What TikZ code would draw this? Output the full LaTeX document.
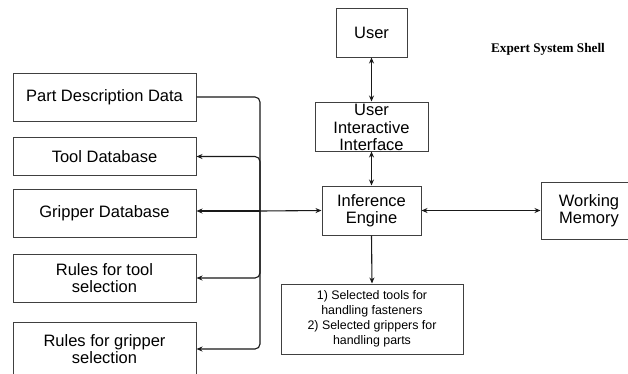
\documentclass[tikz,border=0pt]{standalone}
\usepackage{fontspec}
\setmainfont{Liberation Sans}
\newfontfamily\titlefont{Liberation Serif}
\usetikzlibrary{arrows.meta}
\begin{document}
\begin{tikzpicture}[x=1pt,y=-1pt,
  box/.style={draw=black!75, line width=1pt, inner sep=0pt, align=center,
              font=\fontsize{16.5}{17.5}\selectfont},
  small/.style={font=\fontsize{12.4}{15}\selectfont},
  link/.style={line width=1.1pt, draw=black!90},
  tip/.style={-{Stealth[length=6pt,width=5pt]}},
  both/.style={{Stealth[length=6pt,width=5pt]}-{Stealth[length=6pt,width=5pt]}}]
\useasboundingbox (0,0) rectangle (628,373);
\clip (0,0) rectangle (628,373);

% knowledge sources on the left
\node[box, minimum width=183pt, minimum height=48pt] (pdd)  at (104.5,97)  {Part Description Data};
\node[box, minimum width=183pt, minimum height=38pt] (tool) at (104.5,156.5) {Tool Database};
\node[box, minimum width=183pt, minimum height=48pt] (grip) at (104.5,213)  {Gripper Database};
\node[box, minimum width=183pt, minimum height=48pt] (rt)   at (104.5,278)  {Rules for tool\\selection};
\node[box, minimum width=183pt, minimum height=54pt] (rg)   at (104.5,349)  {Rules for gripper\\selection};

% central column
\node[box, minimum width=71pt, minimum height=49pt] (user) at (371.5,32.5) {User};
\node[box, minimum width=113pt, minimum height=49pt] (uii) at (371.5,126.5) {};
\node[box, draw=none] (uiitext) at (371.5,127.5) {User\\Interactive\\Interface};
\node[box, minimum width=99pt, minimum height=49pt] (ie) at (371.5,210.5) {Inference\\Engine};
\node[box, small, minimum width=182pt, minimum height=70pt] (out) at (372,319)
  {1) Selected tools for\\handling fasteners\\2) Selected grippers for\\handling parts};
\node[box, minimum width=96pt, minimum height=57pt] (wm) at (589,210.5) {Working\\Memory};

\node[font=\titlefont\bfseries\fontsize{13.2}{14}\selectfont] (title) at (548,49) {Expert System Shell};

% bus joining the knowledge sources to the inference engine
\coordinate (j) at (260,211);
\draw[link, rounded corners=5pt] (pdd.east) -| (j);
\draw[link, tip, rounded corners=5pt] (j) |- (tool.east);
\draw[link, tip] (j) -- (j -| grip.east);
\draw[link, tip, rounded corners=5pt] (j) |- (rt.east);
\draw[link, tip, rounded corners=5pt] (j) |- (rg.east);
\draw[link, tip] (j) -- (ie.west);

% links of the central column
\draw[link, both] (user.south) -- (uii.north);
\draw[link, both] (uii.south) -- (ie.north);
\draw[link, tip] (ie.south) -- (out.north);
\draw[link, both] (ie.east) -- (wm.west);
\end{tikzpicture}
\end{document}
